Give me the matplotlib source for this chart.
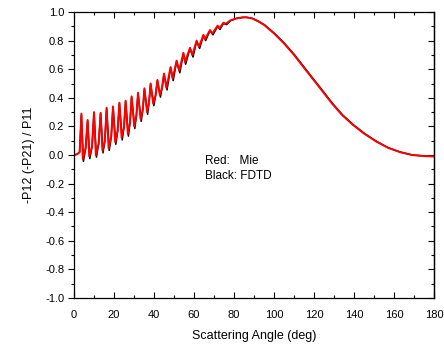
import matplotlib
matplotlib.use("Agg")
import matplotlib.pyplot as plt
from matplotlib.ticker import MultipleLocator

plt.rcParams['font.family'] = ['Liberation Sans', 'DejaVu Sans']

# Mie (red)
angleMie = [0, 1.5, 2.8, 3.7, 4.4, 5.8, 6.8, 7.6, 9.0, 10.0, 10.9, 12.3, 13.3, 14.2, 15.4, 16.3,
            17.3, 18.6, 19.5, 20.6, 21.8, 22.7, 23.8, 25.0, 25.8, 26.9, 28.0, 28.8, 30.1, 31.2,
            32.0, 33.3, 34.4, 35.2, 36.5, 37.5, 38.3, 39.6, 40.8, 41.7, 42.9, 44.0, 45.0, 46.2,
            48.3, 49.3, 51.3, 52.6, 54.7, 55.5, 58.0, 59.2, 61.3, 62.5, 64.7, 65.5, 68.0, 69.2,
            71.8, 72.7, 74.7, 76.0, 78.0, 81.0, 84.0, 86.0, 89.0, 92.0, 95.0, 100.0, 105.0,
            110.0, 115.0, 119.5, 124.0, 129.0, 134.0, 139.5, 145.0, 151.0, 157.0, 163.0, 169.0,
            175.0, 180.0]
valueMie = [0.0, 0.005, 0.02, 0.29, -0.03, 0.05, 0.245, -0.01, 0.06, 0.30, 0.0, 0.08, 0.295, 0.03,
            0.10, 0.33, 0.047, 0.13, 0.34, 0.09, 0.17, 0.366, 0.12, 0.20, 0.38, 0.147, 0.23, 0.41,
            0.20, 0.28, 0.436, 0.25, 0.32, 0.466, 0.30, 0.37, 0.50, 0.36, 0.42, 0.525, 0.42, 0.47,
            0.57, 0.47, 0.615, 0.535, 0.66, 0.59, 0.715, 0.65, 0.75, 0.70, 0.80, 0.757, 0.84, 0.81,
            0.874, 0.85, 0.905, 0.886, 0.925, 0.918, 0.94, 0.955, 0.962, 0.963, 0.955, 0.935, 0.91,
            0.85, 0.78, 0.70, 0.61, 0.53, 0.45, 0.36, 0.28, 0.21, 0.15, 0.095, 0.05, 0.02, 0.0,
            -0.008, -0.01]

# FDTD (black): troughs a bit lower and later
angleFDTD = [0, 1.5, 2.8, 3.7, 4.7, 5.8, 6.8, 7.9, 9.0, 10.0, 11.2, 12.3, 13.3, 14.5, 15.4, 16.3,
             17.6, 18.6, 19.5, 20.9, 21.8, 22.7, 24.1, 25.0, 25.8, 27.2, 28.0, 28.8, 30.4, 31.2,
             32.0, 33.6, 34.4, 35.2, 36.8, 37.5, 38.3, 39.9, 40.8, 41.7, 43.2, 44.0, 45.0, 46.5,
             48.3, 49.6, 51.3, 52.9, 54.7, 55.8, 58.0, 59.5, 61.3, 62.8, 64.7, 65.8, 68.0, 69.5,
             71.8, 73.0, 74.7, 76.3, 78.3, 81.3, 84.3, 86.3, 89.3, 92.3, 95.3, 100.3, 105.3,
             110.3, 115.3, 119.8, 124.3, 129.3, 134.3, 139.8, 145.3, 151.3, 157.3, 163.3, 169.3,
             175.0, 180.0]
valueFDTD = [0.0, 0.005, 0.02, 0.28, -0.045, 0.045, 0.24, -0.025, 0.055, 0.295, -0.015, 0.075, 0.29,
             0.015, 0.095, 0.325, 0.032, 0.125, 0.335, 0.075, 0.165, 0.36, 0.105, 0.195, 0.375, 0.132,
             0.225, 0.405, 0.185, 0.275, 0.43, 0.235, 0.315, 0.46, 0.285, 0.365, 0.495, 0.345, 0.415,
             0.52, 0.405, 0.465, 0.565, 0.455, 0.61, 0.52, 0.655, 0.575, 0.71, 0.635, 0.745, 0.685,
             0.795, 0.745, 0.835, 0.80, 0.87, 0.84, 0.90, 0.878, 0.92, 0.912, 0.94, 0.955, 0.962,
             0.963, 0.955, 0.935, 0.91, 0.85, 0.78, 0.70, 0.61, 0.53, 0.45, 0.36, 0.28, 0.21, 0.15,
             0.095, 0.05, 0.02, 0.0, -0.006, -0.01]

fig = plt.figure(figsize=(4.44, 3.5), dpi=100)
ax = fig.add_axes([0.1667, 0.1486, 0.8108, 0.8171])

ax.plot(angleFDTD, valueFDTD, color='black', linewidth=1.1)
ax.plot(angleMie, valueMie, color='#ff0000', linewidth=1.4)

ax.set_xlim(0, 180)
ax.set_ylim(-1.0, 1.0)
ax.xaxis.set_major_locator(MultipleLocator(20))
ax.xaxis.set_minor_locator(MultipleLocator(10))
ax.yaxis.set_major_locator(MultipleLocator(0.2))
ax.yaxis.set_minor_locator(MultipleLocator(0.1))
ax.yaxis.set_major_formatter(plt.FuncFormatter(lambda v, p: f"{v:.1f}"))

ax.tick_params(axis='x', which='both', direction='in', top=True, bottom=True, labelsize=8, pad=9)
ax.tick_params(axis='x', which='major', length=4, width=0.8)
ax.tick_params(axis='x', which='minor', length=2.5, width=0.8)
ax.tick_params(axis='y', which='both', direction='out', left=True, right=False, labelsize=8, pad=3)
ax.tick_params(axis='y', which='major', length=4, width=0.8)
ax.tick_params(axis='y', which='minor', length=2.5, width=0.8)

# right side ticks point inward
ay = ax.secondary_yaxis('right')
ay.yaxis.set_major_locator(MultipleLocator(0.2))
ay.yaxis.set_minor_locator(MultipleLocator(0.1))
ay.tick_params(which='both', direction='in', labelright=False, width=0.8)
ay.tick_params(which='major', length=4)
ay.tick_params(which='minor', length=2.5)

for s in ax.spines.values():
    s.set_linewidth(0.9)
ay.spines['right'].set_linewidth(0.9)

ax.set_xlabel("Scattering Angle (deg)", fontsize=9, labelpad=7)
ax.set_ylabel("-P12 (-P21) / P11", fontsize=9, labelpad=7)

ax.text(65.5, -0.04, "Red:   Mie", fontsize=8.5, va='center')
ax.text(65.5, -0.15, "Black: FDTD", fontsize=8.5, va='center')

fig.savefig("out.png", dpi=100)
